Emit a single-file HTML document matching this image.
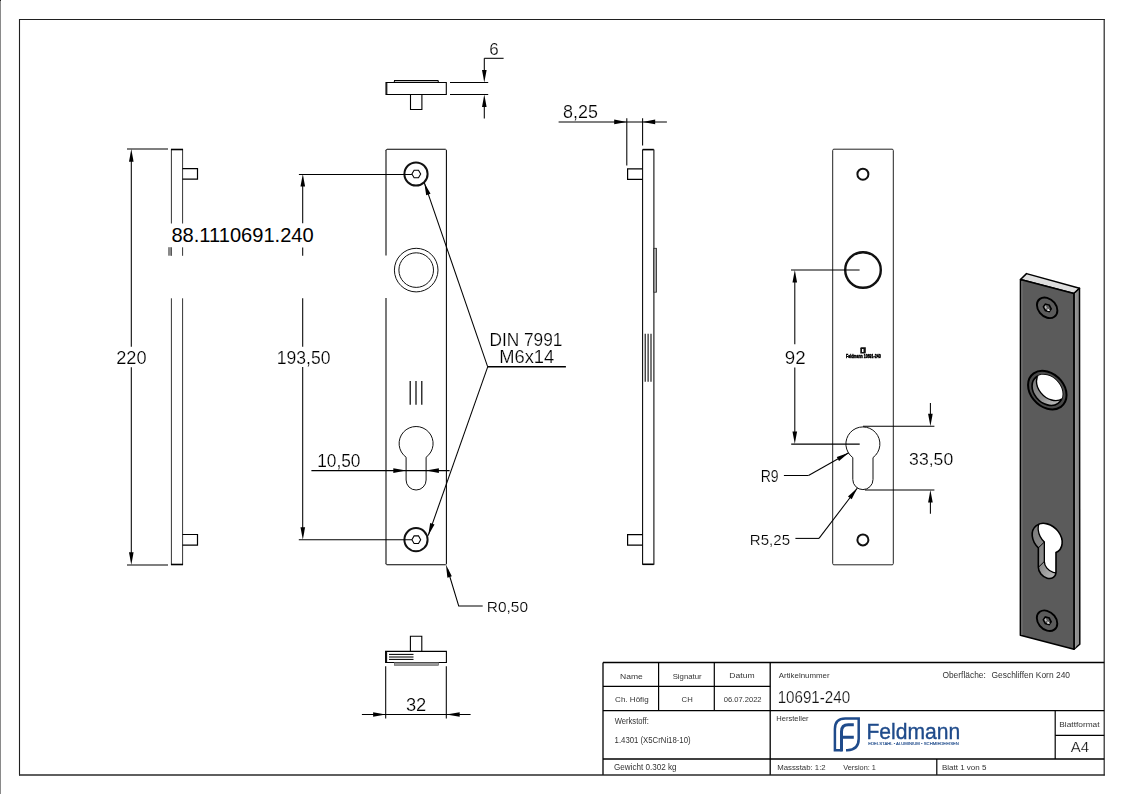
<!DOCTYPE html>
<html><head><meta charset="utf-8"><style>
html,body{margin:0;padding:0;background:#fff;}
#main{display:block;will-change:transform;}
#ov{position:absolute;left:165px;top:224px;width:153px;height:23px;background:#fff;overflow:hidden;}
text{font-family:"Liberation Sans",sans-serif;}
</style></head><body>
<svg id="main" width="1123" height="794" viewBox="0 0 1123 794" shape-rendering="geometricPrecision">
<line x1="0.5" y1="0" x2="0.5" y2="794" stroke="#8a8a8a" stroke-width="1" />
<rect x="0" y="0" width="1" height="1" fill="#222"/>
<line x1="19" y1="19.5" x2="1104.8" y2="19.5" stroke="#202020" stroke-width="1.1" />
<line x1="19.5" y1="19" x2="19.5" y2="775.6" stroke="#202020" stroke-width="1.1" />
<line x1="1104.2" y1="19" x2="1104.2" y2="775.6" stroke="#252525" stroke-width="1.2" />
<line x1="19" y1="775.0" x2="1104.8" y2="775.0" stroke="#2a2a2a" stroke-width="1.3" />
<line x1="127" y1="149" x2="168" y2="149" stroke="#000" stroke-width="1.05" />
<line x1="127" y1="565" x2="168" y2="565" stroke="#000" stroke-width="1.05" />
<line x1="131.3" y1="160" x2="131.3" y2="346.7" stroke="#000" stroke-width="1.05" />
<line x1="131.3" y1="367.3" x2="131.3" y2="553" stroke="#000" stroke-width="1.05" />
<path d="M131.30,149.00 L129.00,161.70 L133.60,161.70 Z" fill="#000"/>
<path d="M131.30,565.00 L133.60,552.30 L129.00,552.30 Z" fill="#000"/>
<text x="116.19" y="364.10" font-size="18.77" textLength="30.32" lengthAdjust="spacingAndGlyphs" fill="#000" stroke="#fff" stroke-width="0.2" >220</text>
<line x1="171.4" y1="149" x2="171.4" y2="223.5" stroke="#343434" stroke-width="1" />
<line x1="171.4" y1="247.3" x2="171.4" y2="255.8" stroke="#343434" stroke-width="1" />
<line x1="171.4" y1="298.3" x2="171.4" y2="565" stroke="#343434" stroke-width="1" />
<line x1="182.6" y1="149" x2="182.6" y2="223.5" stroke="#343434" stroke-width="1" />
<line x1="182.6" y1="247.3" x2="182.6" y2="255.8" stroke="#343434" stroke-width="1" />
<line x1="182.6" y1="298.3" x2="182.6" y2="565" stroke="#343434" stroke-width="1" />
<line x1="171" y1="149.5" x2="183" y2="149.5" stroke="#000" stroke-width="1.6" />
<line x1="171" y1="564.5" x2="183" y2="564.5" stroke="#000" stroke-width="1.6" />
<rect x="168" y="247.2" width="3.2" height="8.5" fill="#8a8a8a"/>
<path d="M182.5,168.7 L197.5,168.7 L197.5,179.2 L182.5,179.2" stroke="#000" stroke-width="1.2" fill="none" />
<path d="M182.5,534.5 L197.5,534.5 L197.5,545.2 L182.5,545.2" stroke="#000" stroke-width="1.2" fill="none" />
<path d="M386,82.5 L446.3,82.5 L446.3,94.5 L386,94.5 Z" stroke="#000" stroke-width="1.1" fill="none" />
<line x1="386.8" y1="83" x2="386.8" y2="94" stroke="#000" stroke-width="1.05" />
<path d="M394.2,82.5 L394.5,80.6 L438,80.6 L438.5,82.5" stroke="#000" stroke-width="1.05" fill="none" />
<path d="M410.5,94.5 L410.5,109.5 L421.9,109.5 L421.9,94.5" stroke="#000" stroke-width="1.1" fill="none" />
<line x1="450" y1="82.5" x2="488.2" y2="82.5" stroke="#000" stroke-width="1.05" />
<line x1="450" y1="94.5" x2="488.2" y2="94.5" stroke="#000" stroke-width="1.05" />
<line x1="484.3" y1="58.3" x2="484.3" y2="72" stroke="#000" stroke-width="1.05" />
<path d="M484.30,82.50 L486.60,70.00 L482.00,70.00 Z" fill="#000"/>
<path d="M484.30,94.50 L482.00,107.00 L486.60,107.00 Z" fill="#000"/>
<line x1="484.3" y1="105" x2="484.3" y2="118.4" stroke="#000" stroke-width="1.05" />
<line x1="484.3" y1="58.3" x2="503.6" y2="58.3" stroke="#000" stroke-width="1.05" />
<text x="489.34" y="54.70" font-size="17.19" textLength="9.40" lengthAdjust="spacingAndGlyphs" fill="#000" stroke="#fff" stroke-width="0.2" >6</text>
<line x1="386.0" y1="150" x2="386.0" y2="255.6" stroke="#000" stroke-width="1.05" />
<line x1="386.0" y1="298" x2="386.0" y2="564" stroke="#000" stroke-width="1.05" />
<line x1="446.4" y1="150" x2="446.4" y2="564" stroke="#000" stroke-width="1.05" />
<line x1="387" y1="149.3" x2="445.5" y2="149.3" stroke="#000" stroke-width="1.05" />
<line x1="387" y1="564.8" x2="445.5" y2="564.8" stroke="#000" stroke-width="1.05" />
<path d="M385.9,150.5 Q385.9,149.3 387,149.3 M445.4,149.3 Q446.4,149.3 446.4,150.5 M385.9,563.7 Q385.9,564.8 387,564.8 M445.4,564.8 Q446.4,564.8 446.4,563.7" stroke="#333" fill="none"/>
<circle cx="416.0" cy="174.0" r="11.6" stroke="#111" stroke-width="2" fill="none"/>
<path d="M420.7,174.0 L418.5,177.81051177665154 L414.1,177.81051177665154 L411.90000000000003,174.0 L414.1,170.18948822334846 L418.5,170.18948822334846 Z" stroke="#000" stroke-width="1.05" fill="none" />
<circle cx="416.0" cy="539.7" r="11.6" stroke="#111" stroke-width="2" fill="none"/>
<path d="M420.7,539.7 L418.5,543.5105117766516 L414.1,543.5105117766516 L411.90000000000003,539.7 L414.1,535.8894882233485 L418.5,535.8894882233485 Z" stroke="#000" stroke-width="1.05" fill="none" />
<circle cx="416.2" cy="270.1" r="21.8" stroke="#111" stroke-width="1" fill="none"/>
<circle cx="416.2" cy="270.1" r="17.3" stroke="#111" stroke-width="1" fill="none"/>
<line x1="410.2" y1="380.9" x2="410.2" y2="404.8" stroke="#000" stroke-width="1.2" />
<line x1="416.0" y1="380.9" x2="416.0" y2="404.8" stroke="#000" stroke-width="1.2" />
<line x1="421.8" y1="380.9" x2="421.8" y2="404.8" stroke="#000" stroke-width="1.2" />
<path d="M406.1,457.25 A17,17 0 1,1 426.1,457.25 L426.1,480 A10,10 0 0,1 406.1,480 Z" stroke="#111" fill="none"/>
<line x1="298.9" y1="174.45" x2="411.9" y2="174.45" stroke="#000" stroke-width="1.05" />
<line x1="298.8" y1="539.7" x2="411.9" y2="539.7" stroke="#000" stroke-width="1.05" />
<line x1="302.7" y1="185" x2="302.7" y2="223.3" stroke="#000" stroke-width="1.05" />
<line x1="302.7" y1="247.4" x2="302.7" y2="255.8" stroke="#000" stroke-width="1.05" />
<line x1="302.7" y1="298.3" x2="302.7" y2="346.8" stroke="#000" stroke-width="1.05" />
<line x1="302.7" y1="367.1" x2="302.7" y2="528" stroke="#000" stroke-width="1.05" />
<path d="M302.80,174.00 L300.50,186.50 L305.10,186.50 Z" fill="#000"/>
<path d="M302.80,539.70 L305.10,527.20 L300.50,527.20 Z" fill="#000"/>
<text x="276.76" y="363.90" font-size="18.62" textLength="53.72" lengthAdjust="spacingAndGlyphs" fill="#000" stroke="#fff" stroke-width="0.2" >193,50</text>
<line x1="311.4" y1="470.6" x2="449.6" y2="470.6" stroke="#000" stroke-width="1.05" />
<path d="M406.10,470.60 L393.30,468.30 L393.30,472.90 Z" fill="#000"/>
<path d="M426.10,470.60 L438.90,472.90 L438.90,468.30 Z" fill="#000"/>
<text x="317.18" y="467.00" font-size="18.34" textLength="43.29" lengthAdjust="spacingAndGlyphs" fill="#000" stroke="#fff" stroke-width="0.2" >10,50</text>
<line x1="487.7" y1="366.8" x2="424.3" y2="182.7" stroke="#000" stroke-width="1.05" />
<path d="M424.30,182.70 L426.20,195.27 L430.54,193.77 Z" fill="#000"/>
<line x1="487.7" y1="366.8" x2="428.2" y2="535.6" stroke="#000" stroke-width="1.05" />
<path d="M428.20,535.60 L434.52,524.58 L430.19,523.05 Z" fill="#000"/>
<line x1="487.7" y1="366.8" x2="565.9" y2="366.8" stroke="#000" stroke-width="1.5" />
<text x="489.48" y="346.20" font-size="18.46" textLength="72.96" lengthAdjust="spacingAndGlyphs" fill="#000" stroke="#fff" stroke-width="0.2" >DIN 7991</text>
<text x="499.30" y="363.30" font-size="18.60" textLength="54.94" lengthAdjust="spacingAndGlyphs" fill="#000" stroke="#fff" stroke-width="0.2" >M6x14</text>
<path d="M447.5,569 L458.7,606 L482.7,606" stroke="#000" stroke-width="1.05" fill="none" />
<path d="M445.90,564.60 L447.40,577.66 L451.80,576.34 Z" fill="#000"/>
<text x="486.83" y="612.40" font-size="15.55" textLength="41.17" lengthAdjust="spacingAndGlyphs" fill="#000" stroke="#fff" stroke-width="0.2" >R0,50</text>
<path d="M385.6,651.4 L446.4,651.4 L446.4,662.5 L385.6,662.5 Z" stroke="#000" stroke-width="1.1" fill="none" />
<line x1="386.6" y1="652" x2="386.6" y2="662" stroke="#000" stroke-width="1.05" />
<line x1="389" y1="654.4" x2="413.5" y2="654.4" stroke="#000" stroke-width="1.05" />
<line x1="389" y1="657.0" x2="413.5" y2="657.0" stroke="#000" stroke-width="1.05" />
<line x1="389" y1="659.4" x2="413.5" y2="659.4" stroke="#000" stroke-width="1.05" />
<path d="M410.4,651.4 L410.4,636.2 L421.8,636.2 L421.8,651.4" stroke="#000" stroke-width="1.1" fill="none" />
<rect x="394.3" y="662.6" width="44.3" height="2.7" fill="#999" stroke="#555" stroke-width="0.6"/>
<line x1="385.7" y1="666.3" x2="385.7" y2="718.5" stroke="#000" stroke-width="1.05" />
<line x1="446.3" y1="666.3" x2="446.3" y2="718.5" stroke="#000" stroke-width="1.05" />
<line x1="361.9" y1="714.5" x2="470.6" y2="714.5" stroke="#000" stroke-width="1.05" />
<path d="M385.70,714.50 L373.10,712.20 L373.10,716.80 Z" fill="#000"/>
<path d="M446.30,714.50 L459.70,716.80 L459.70,712.20 Z" fill="#000"/>
<text x="405.90" y="711.00" font-size="18.62" textLength="20.42" lengthAdjust="spacingAndGlyphs" fill="#000" stroke="#fff" stroke-width="0.2" >32</text>
<line x1="642.6" y1="149.5" x2="642.6" y2="564.7" stroke="#000" stroke-width="1.05" />
<line x1="653.9" y1="149.5" x2="653.9" y2="564.7" stroke="#000" stroke-width="1.05" />
<line x1="642.6" y1="149.6" x2="653.8" y2="149.6" stroke="#000" stroke-width="1.6" />
<line x1="642.6" y1="564.3" x2="653.8" y2="564.3" stroke="#000" stroke-width="1.6" />
<path d="M642.6,168.9 L627.6,168.9 L627.6,179.3 L642.6,179.3" stroke="#000" stroke-width="1.2" fill="none" />
<path d="M642.6,534.7 L627.6,534.7 L627.6,545.1 L642.6,545.1" stroke="#000" stroke-width="1.2" fill="none" />
<rect x="653.8" y="248.3" width="2.7" height="43.9" fill="#a8a8a8" stroke="#222" stroke-width="0.8"/>
<line x1="645.2" y1="333.7" x2="645.2" y2="381.7" stroke="#000" stroke-width="1.05" />
<line x1="648.1" y1="333.7" x2="648.1" y2="381.7" stroke="#000" stroke-width="1.05" />
<line x1="651.0" y1="333.7" x2="651.0" y2="381.7" stroke="#000" stroke-width="1.05" />
<line x1="558.6" y1="121.9" x2="666.9" y2="121.9" stroke="#000" stroke-width="1.05" />
<path d="M626.80,121.90 L614.20,119.60 L614.20,124.20 Z" fill="#000"/>
<path d="M642.60,121.90 L655.20,124.20 L655.20,119.60 Z" fill="#000"/>
<line x1="626.8" y1="118.3" x2="626.8" y2="165.6" stroke="#000" stroke-width="1.05" />
<line x1="642.6" y1="118.3" x2="642.6" y2="145.4" stroke="#000" stroke-width="1.05" />
<text x="563.12" y="118.00" font-size="18.05" textLength="34.83" lengthAdjust="spacingAndGlyphs" fill="#000" stroke="#fff" stroke-width="0.2" >8,25</text>
<rect x="832.7" y="149.2" width="60.6" height="415.6" rx="1.2" stroke="#222" fill="none"/>
<circle cx="862.9" cy="174.2" r="5.5" stroke="#111" stroke-width="2" fill="none"/>
<circle cx="862.9" cy="539.9" r="5.5" stroke="#111" stroke-width="2" fill="none"/>
<circle cx="863.0" cy="270.0" r="17.8" stroke="#111" stroke-width="2.4" fill="none"/>
<path d="M860.3,348.2 Q860.3,347.2 861.3,347.2 L865.8,347.2 L865.8,352.5 Q865.8,353.6 864.8,353.6 L860.3,353.6 Z" fill="#111"/>
<rect x="862" y="349" width="1.5" height="3" fill="#fff"/>
<text x="846.1" y="357.8" font-size="5.4" font-weight="bold" textLength="34.5" lengthAdjust="spacingAndGlyphs" fill="#000" stroke="#000" stroke-width="0.55">Feldmann 10691-240</text>
<path d="M852.8,457.6 A17,17 0 1,1 873.0,457.6 L873.0,479.5 A10.1,10.1 0 0,1 852.8,479.5 Z" stroke="#111" fill="none"/>
<line x1="791.0" y1="270.0" x2="859.6" y2="270.0" stroke="#000" stroke-width="1.05" />
<line x1="791.2" y1="444.1" x2="859.7" y2="444.1" stroke="#000" stroke-width="1.05" />
<line x1="794.8" y1="281" x2="794.8" y2="344.3" stroke="#000" stroke-width="1.05" />
<line x1="794.8" y1="367.5" x2="794.8" y2="433" stroke="#000" stroke-width="1.05" />
<path d="M794.80,270.00 L792.50,282.50 L797.10,282.50 Z" fill="#000"/>
<path d="M794.80,444.10 L797.10,431.60 L792.50,431.60 Z" fill="#000"/>
<text x="784.82" y="364.10" font-size="18.19" textLength="20.82" lengthAdjust="spacingAndGlyphs" fill="#000" stroke="#fff" stroke-width="0.2" >92</text>
<line x1="863.0" y1="426.3" x2="934.4" y2="426.3" stroke="#000" stroke-width="1.05" />
<line x1="864.9" y1="490.0" x2="934.4" y2="490.0" stroke="#000" stroke-width="1.05" />
<line x1="930.4" y1="403.0" x2="930.4" y2="415" stroke="#000" stroke-width="1.05" />
<path d="M930.40,426.30 L932.70,413.80 L928.10,413.80 Z" fill="#000"/>
<path d="M930.40,490.00 L928.10,502.50 L932.70,502.50 Z" fill="#000"/>
<line x1="930.4" y1="501" x2="930.4" y2="513.8" stroke="#000" stroke-width="1.05" />
<text x="909.13" y="464.90" font-size="16.48" textLength="44.06" lengthAdjust="spacingAndGlyphs" fill="#000" stroke="#fff" stroke-width="0.2" >33,50</text>
<path d="M808.5,475.5 L783.9,475.5" stroke="#000" stroke-width="1.05" fill="none" />
<line x1="808.5" y1="475.5" x2="848.8" y2="452.8" stroke="#000" stroke-width="1.05" />
<path d="M848.80,452.80 L836.78,456.93 L839.04,460.94 Z" fill="#000"/>
<text x="760.65" y="482.00" font-size="16.13" textLength="17.91" lengthAdjust="spacingAndGlyphs" fill="#000" stroke="#fff" stroke-width="0.2" >R9</text>
<line x1="795.4" y1="538.4" x2="819.0" y2="538.4" stroke="#000" stroke-width="1.05" />
<line x1="819.0" y1="538.4" x2="857.4" y2="488.0" stroke="#000" stroke-width="1.05" />
<path d="M857.40,488.00 L847.99,496.55 L851.65,499.34 Z" fill="#000"/>
<text x="749.87" y="545.00" font-size="15.41" textLength="40.17" lengthAdjust="spacingAndGlyphs" fill="#000" stroke="#fff" stroke-width="0.2" >R5,25</text>
<defs><linearGradient id="bore" x1="0" y1="0" x2="1" y2="1"><stop offset="0" stop-color="#7a7a7a"/><stop offset="0.55" stop-color="#8c8c8c"/><stop offset="0.8" stop-color="#b4b4b4"/><stop offset="1" stop-color="#8a8a8a"/></linearGradient></defs>
<path d="M1020.5,279.5 L1026.5,273.6 L1079.5,288.3 L1073.9,293.5 Z" stroke="#000" stroke-width="1.5" fill="#dedede" stroke-linejoin="round"/>
<path d="M1073.9,293.5 L1079.5,288.3 L1079.8,644.3 L1074.0,649.3 Z" stroke="#000" stroke-width="1.5" fill="#8e8e8e" stroke-linejoin="round"/>
<path d="M1020.5,279.5 L1073.9,293.5 L1074.0,649.3 L1020.4,635.3 Z" stroke="#000" stroke-width="1.6" fill="#5b5b5b" stroke-linejoin="round"/>
<line x1="1021.9" y1="281" x2="1021.9" y2="635" stroke="#7c7c7c" stroke-width="1" />
<line x1="1075.6" y1="293" x2="1075.6" y2="647.5" stroke="#9a9a9a" stroke-width="1" />
<g transform="matrix(0.88264 0.23140 -0.00024 0.85570 680.012 62.639)"><clipPath id="ckh"><path d="M406.1,457.25 A17,17 0 1,1 426.1,457.25 L426.1,480 A10,10 0 0,1 406.1,480 Z"/></clipPath><clipPath id="cbh"><circle cx="416.2" cy="270.1" r="17.3"/></clipPath><circle cx="416.2" cy="270.1" r="21.8" fill="#4a4a4a" stroke="#000" stroke-width="2" vector-effect="non-scaling-stroke"/><circle cx="416.2" cy="270.1" r="17.3" fill="url(#bore)" stroke="#000" stroke-width="1.6" vector-effect="non-scaling-stroke"/><g clip-path="url(#cbh)"><circle cx="421.2" cy="263.1" r="17.3" fill="#fff" stroke="#000" stroke-width="1.4" vector-effect="non-scaling-stroke"/></g><path d="M406.1,457.25 A17,17 0 1,1 426.1,457.25 L426.1,480 A10,10 0 0,1 406.1,480 Z" fill="url(#bore)" stroke="none"/><g clip-path="url(#ckh)"><path d="M406.1,457.25 A17,17 0 1,1 426.1,457.25 L426.1,480 A10,10 0 0,1 406.1,480 Z" transform="translate(6.8 -8.7)" fill="#fff" stroke="#000" stroke-width="1.3" vector-effect="non-scaling-stroke"/></g><path d="M406.1,457.25 l6.8,-8.7 M406.1,480 l6.8,-8.7" stroke="#000" stroke-width="1" vector-effect="non-scaling-stroke"/><path d="M406.1,457.25 A17,17 0 1,1 426.1,457.25 L426.1,480 A10,10 0 0,1 406.1,480 Z" fill="none" stroke="#000" stroke-width="1.6" vector-effect="non-scaling-stroke"/><circle cx="416.0" cy="174.0" r="11.6" fill="none" stroke="#000" stroke-width="1.9" vector-effect="non-scaling-stroke"/><polygon points="420.60,174.00 418.40,177.81 414.00,177.81 411.80,174.00 414.00,170.19 418.40,170.19" fill="#5e5e5e" stroke="#000" stroke-width="1.6" vector-effect="non-scaling-stroke"/><path d="M416.6,174.6 l3,1.8 l-3.4,1.2 Z" fill="#fff"/><path d="M414.2,171.4 l1.6,2.8 l-1.5,1.6 l-1.4,-2 Z" fill="#bbb"/><circle cx="416.0" cy="539.7" r="11.6" fill="none" stroke="#000" stroke-width="1.9" vector-effect="non-scaling-stroke"/><polygon points="420.60,539.70 418.40,543.51 414.00,543.51 411.80,539.70 414.00,535.89 418.40,535.89" fill="#5e5e5e" stroke="#000" stroke-width="1.6" vector-effect="non-scaling-stroke"/><path d="M416.6,540.3000000000001 l3,1.8 l-3.4,1.2 Z" fill="#fff"/><path d="M414.2,537.1 l1.6,2.8 l-1.5,1.6 l-1.4,-2 Z" fill="#bbb"/></g>
<path d="M603.0,662.5 L1104.2,662.5" stroke="#000" stroke-width="1.3" fill="none" />
<line x1="603.0" y1="662.5" x2="603.0" y2="774.8" stroke="#000" stroke-width="1.3" />
<line x1="658.6" y1="662.5" x2="658.6" y2="710.4" stroke="#000" stroke-width="1.2" />
<line x1="714.3" y1="662.5" x2="714.3" y2="710.4" stroke="#000" stroke-width="1.2" />
<line x1="770.2" y1="662.5" x2="770.2" y2="774.8" stroke="#000" stroke-width="1.3" />
<line x1="936.8" y1="759.0" x2="936.8" y2="774.8" stroke="#000" stroke-width="1.2" />
<line x1="1055.2" y1="710.4" x2="1055.2" y2="759.0" stroke="#000" stroke-width="1.2" />
<line x1="603.0" y1="686.4" x2="770.2" y2="686.4" stroke="#000" stroke-width="1.2" />
<line x1="603.0" y1="710.6" x2="1104.2" y2="710.6" stroke="#000" stroke-width="1.3" />
<line x1="603.0" y1="759.0" x2="1104.2" y2="759.0" stroke="#000" stroke-width="1.3" />
<line x1="1055.2" y1="735.4" x2="1104.2" y2="735.4" stroke="#000" stroke-width="1.2" />
<text x="620.10" y="679.00" font-size="7.70" textLength="22.78" lengthAdjust="spacingAndGlyphs" fill="#333"  >Name</text>
<text x="672.65" y="679.00" font-size="7.70" textLength="28.98" lengthAdjust="spacingAndGlyphs" fill="#333"  >Signatur</text>
<text x="729.30" y="678.00" font-size="7.70" textLength="25.27" lengthAdjust="spacingAndGlyphs" fill="#333"  >Datum</text>
<text x="615.09" y="702.20" font-size="7.70" textLength="33.53" lengthAdjust="spacingAndGlyphs" fill="#333"  >Ch. Höfig</text>
<text x="681.61" y="702.20" font-size="7.70" textLength="11.12" lengthAdjust="spacingAndGlyphs" fill="#333"  >CH</text>
<text x="723.70" y="702.10" font-size="7.74" textLength="37.88" lengthAdjust="spacingAndGlyphs" fill="#333"  >06.07.2022</text>
<text x="778.78" y="678.00" font-size="7.70" textLength="50.85" lengthAdjust="spacingAndGlyphs" fill="#333"  >Artikelnummer</text>
<text x="777.64" y="702.70" font-size="16.76" textLength="72.55" lengthAdjust="spacingAndGlyphs" fill="#111" stroke="#fff" stroke-width="0.2" >10691-240</text>
<text x="942.40" y="677.80" font-size="8.14" textLength="43.47" lengthAdjust="spacingAndGlyphs" fill="#333"  >Oberfläche:</text>
<text x="991.48" y="677.80" font-size="8.14" textLength="78.55" lengthAdjust="spacingAndGlyphs" fill="#333"  >Geschliffen Korn 240</text>
<text x="614.67" y="724.00" font-size="8.14" textLength="34.13" lengthAdjust="spacingAndGlyphs" fill="#333"  >Werkstoff:</text>
<text x="614.61" y="742.80" font-size="8.28" textLength="75.97" lengthAdjust="spacingAndGlyphs" fill="#333"  >1.4301 (X5CrNi18-10)</text>
<text x="776.28" y="721.00" font-size="7.85" textLength="32.35" lengthAdjust="spacingAndGlyphs" fill="#333"  >Hersteller</text>
<text x="613.99" y="770.30" font-size="8.28" textLength="62.63" lengthAdjust="spacingAndGlyphs" fill="#333"  >Gewicht 0.302 kg</text>
<text x="777.16" y="770.30" font-size="7.41" textLength="48.53" lengthAdjust="spacingAndGlyphs" fill="#333"  >Massstab: 1:2</text>
<text x="843.27" y="770.30" font-size="7.41" textLength="32.59" lengthAdjust="spacingAndGlyphs" fill="#333"  >Version: 1</text>
<text x="941.94" y="770.30" font-size="7.41" textLength="44.49" lengthAdjust="spacingAndGlyphs" fill="#333"  >Blatt 1 von 5</text>
<text x="1059.32" y="726.70" font-size="7.99" textLength="40.24" lengthAdjust="spacingAndGlyphs" fill="#333"  >Blattformat</text>
<text x="1070.67" y="751.80" font-size="14.53" textLength="18.37" lengthAdjust="spacingAndGlyphs" fill="#111" stroke="#fff" stroke-width="0.2" >A4</text>
<path d="M842.5,750.2 L834.9,750.2 L834.9,729 Q834.9,718.5 845.3,718.5 L858.7,718.5 L858.7,738.8 Q858.7,750.2 847.2,750.2 L846,750.2" fill="none" stroke="#1f4b8b" stroke-width="2.5"/>
<path d="M841.5,751.3 L841.5,731.6 Q841.5,724.8 848.3,724.8 L853.8,724.8 M841.5,737.3 L853.8,737.3" fill="none" stroke="#1f4b8b" stroke-width="3"/>
<text x="866.47" y="738.50" font-size="21.80" textLength="93.80" lengthAdjust="spacingAndGlyphs" fill="#1f4b8b"  stroke="#1f4b8b" stroke-width="0.35">Feldmann</text>
<text x="868.2" y="745.4" font-size="3.9" textLength="90.7" lengthAdjust="spacingAndGlyphs" fill="#1f4b8b" stroke="#1f4b8b" stroke-width="0.12">EDELSTAHL • ALUMINIUM • SCHMIEDEEISEN</text>
</svg>
<div id="ov"><svg width="153" height="23" viewBox="165 224 153 23" style="display:block">
<text x="171.45" y="241.80" font-size="19.63" textLength="142.22" lengthAdjust="spacingAndGlyphs" fill="#000"  >88.1110691.240</text>
</svg></div>
</body></html>
